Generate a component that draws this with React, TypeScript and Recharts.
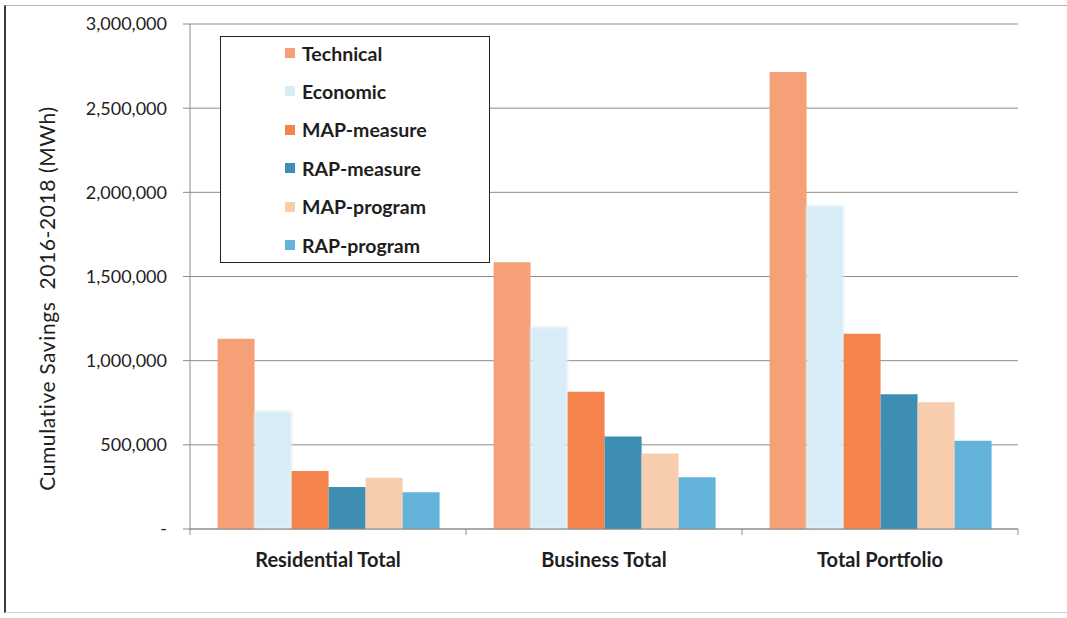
import React from 'react';
import { BarChart, Bar, XAxis, YAxis, CartesianGrid, Legend } from 'recharts';

const CATEGORIES = ['Residential Total', 'Business Total', 'Total Portfolio'];

const TECHNICAL = [1130000, 1585000, 2715000];
const ECONOMIC = [700000, 1200000, 1920000];
const MAP_MEASURE = [345000, 815000, 1160000];
const RAP_MEASURE = [250000, 550000, 800000];
const MAP_PROGRAM = [305000, 448000, 753000];
const RAP_PROGRAM = [218000, 307000, 525000];

const Y_TICKS = [0, 500000, 1000000, 1500000, 2000000, 2500000, 3000000];

const SERIES = [
  { key: 'technical', label: 'Technical', color: '#f5a077', values: TECHNICAL },
  { key: 'economic', label: 'Economic', color: '#d8ecf7', values: ECONOMIC },
  { key: 'mapMeasure', label: 'MAP-measure', color: '#f5844c', values: MAP_MEASURE },
  { key: 'rapMeasure', label: 'RAP-measure', color: '#3e8db3', values: RAP_MEASURE },
  { key: 'mapProgram', label: 'MAP-program', color: '#f8cdae', values: MAP_PROGRAM },
  { key: 'rapProgram', label: 'RAP-program', color: '#63b3da', values: RAP_PROGRAM },
];

const data = CATEGORIES.map((name, i) => {
  const row: { [k: string]: string | number } = { name };
  SERIES.forEach((s) => {
    row[s.key] = s.values[i];
  });
  return row;
});

const FONT = 'Lato, "Open Sans", sans-serif';
const GRID = '#8c8c8c';
const INK = '#1e1e1e';

const fmtY = (v: number) => (v === 0 ? '-' : v.toLocaleString('en-US'));

// category label plus short tick marks on the band edges
const CategoryTick = (props: any) => {
  const { x, y, payload, index, visibleTicksCount } = props;
  const half = payload && payload.offset ? payload.offset : 138;
  const last = index === (visibleTicksCount ?? CATEGORIES.length) - 1;
  return (
    <g>
      <line x1={x - half} x2={x - half} y1={y} y2={y + 6} stroke={GRID} strokeWidth={1} />
      {last && <line x1={x + half} x2={x + half} y1={y} y2={y + 6} stroke={GRID} strokeWidth={1} />}
      <text
        x={x}
        y={y + 31}
        dy="0.35em"
        textAnchor="middle"
        fontFamily={FONT}
        fontSize={20}
        fontWeight={700}
        fill={INK}
      >
        {payload.value}
      </text>
    </g>
  );
};

const YTitle = (props: any) => {
  const vb = props.viewBox || { x: 70, y: 24, height: 505 };
  const x = vb.x - 24;
  const y = vb.y + vb.height / 2 + 22;
  return (
    <text
      x={x}
      y={y}
      transform={`rotate(-90 ${x} ${y})`}
      textAnchor="middle"
      dominantBaseline="central"
      fontFamily={FONT}
      fontSize={21}
      letterSpacing={0.6}
      fill={INK}
    >
      {'Cumulative Savings\u00a0 2016-2018 (MWh)'}
    </text>
  );
};

const LegendBox = () => (
  <div
    style={{
      position: 'relative',
      width: 270,
      height: 227,
      boxSizing: 'border-box',
      border: '1.5px solid #222',
      background: '#fff',
      fontFamily: FONT,
    }}
  >
    {SERIES.map((s, i) => (
      <div
        key={s.key}
        style={{
          position: 'absolute',
          left: 64,
          top: 3 + i * 38.4,
          height: 26,
          display: 'flex',
          alignItems: 'center',
        }}
      >
        <span style={{ width: 10, height: 10, background: s.color, marginRight: 7 }} />
        <span style={{ fontSize: 19.5, fontWeight: 700, color: INK }}>{s.label}</span>
      </div>
    ))}
  </div>
);

const SoftRect = (props: any) => {
  const { x, y, width, height, fill } = props;
  return <rect x={x} y={y} width={width} height={height} fill={fill} filter="url(#soft-edge)" />;
};

export default function App() {
  return (
    <div style={{ position: 'absolute', left: 0, top: 0, width: 1067, height: 618, background: '#fff', overflow: 'hidden' }}>
      <svg width={0} height={0} style={{ position: 'absolute' }}>
        <defs>
          <filter id="soft-edge" x="-20%" y="-5%" width="140%" height="110%">
            <feGaussianBlur stdDeviation={1.6} />
          </filter>
        </defs>
      </svg>
      {/* page frame around the figure */}
      <div
        style={{
          position: 'absolute',
          left: 4,
          top: 5,
          width: 1063,
          height: 608,
          boxSizing: 'border-box',
          borderLeft: '2px solid #3a3a3a',
          borderTop: '1px solid #b5b5b5',
          borderBottom: '1px solid #cfcfcf',
        }}
      />
      <div style={{ position: 'absolute', left: 0, top: 0 }}>
        <BarChart
          width={1067}
          height={618}
          data={data}
          margin={{ top: 24, right: 49, left: 70, bottom: 39 }}
          barCategoryGap="10%"
          barGap={0}
        >
          <CartesianGrid horizontal vertical={false} stroke={GRID} strokeWidth={1} />
          <XAxis
            dataKey="name"
            interval={0}
            height={50}
            tickSize={0}
            tickMargin={0}
            tickLine={false}
            axisLine={{ stroke: GRID }}
            tick={<CategoryTick />}
          />
          <YAxis
            width={120}
            domain={[0, 3000000]}
            ticks={Y_TICKS}
            interval={0}
            tickFormatter={fmtY}
            tickSize={7}
            tickMargin={16}
            axisLine={{ stroke: GRID }}
            tickLine={{ stroke: GRID }}
            tick={{ fontFamily: FONT, fontSize: 18, fill: INK }}
            label={{ content: <YTitle /> }}
          />
          <Legend
            layout="vertical"
            align="center"
            verticalAlign="middle"
            content={<LegendBox />}
            wrapperStyle={{ left: 220, top: 36, width: 270, height: 227 }}
          />
          {SERIES.map((s) => (
            <Bar
              key={s.key}
              dataKey={s.key}
              name={s.label}
              fill={s.color}
              isAnimationActive={false}
              shape={s.key === 'economic' ? <SoftRect /> : undefined}
            />
          ))}
        </BarChart>
      </div>
    </div>
  );
}
